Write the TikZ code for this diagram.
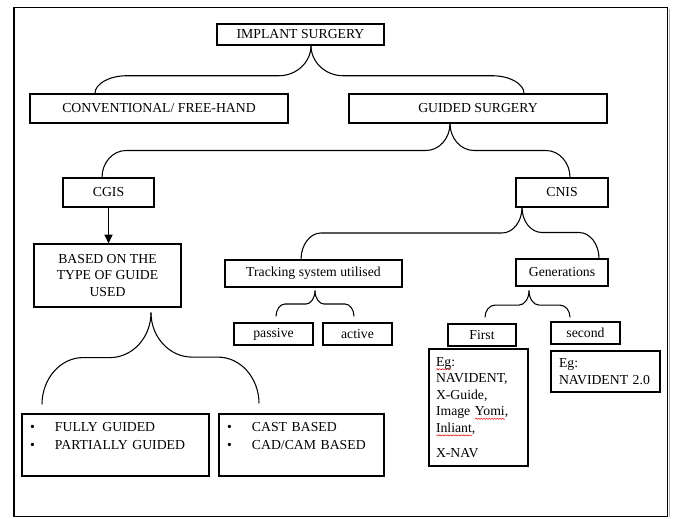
\documentclass[tikz,border=0pt]{standalone}
\usepackage{fontspec}
\setmainfont{Liberation Serif}
\usetikzlibrary{calc,arrows.meta,decorations.pathmorphing}

% red wavy spell-check mark under a word
\newlength{\spellwd}
\newcommand{\spellmark}[1]{\leavevmode\settowidth{\spellwd}{#1}\rlap{\tikz[baseline=0pt]\draw[red!85!black, line width=0.35pt, decorate, decoration={snake, amplitude=0.45pt, segment length=2pt}] (0pt,-2.2pt) -- (\spellwd,-2.2pt);}#1}
\newcommand{\itembullet}{\makebox[18.75pt][l]{\textbullet}}

\tikzset{
  box/.style 2 args={draw, line width=0.9pt, inner sep=0pt, align=center,
    minimum width=#1*0.75pt, minimum height=#2*0.75pt,
    font=\fontsize{10.3}{12.4}\selectfont},
  listbox/.style={align=left, inner xsep=6pt,
    font=\fontsize{10.3}{13.5}\selectfont},
  % curly arm from a parent's bottom to a child's top
  arm/.style 2 args={line width=0.8pt, to path={
    let \p1=(\tikztostart), \p2=(\tikztotarget),
        \n1={sign(\x2-\x1)}, \n2={\y1+#1*(\y2-\y1)}, \n3={#2*0.75}
    in .. controls (\x1,{\y1+0.55*(\n2-\y1)}) and ({\x1+0.45*\n1*\n3},{\n2*1pt}) .. ({\x1+\n1*\n3},{\n2*1pt})
    -- ({\x2-\n1*\n3},{\n2*1pt})
    .. controls ({\x2-0.45*\n1*\n3},{\n2*1pt}) and (\x2,{\n2+0.45*(\y2-\n2)}) .. (\tikztotarget)}}
}

\begin{document}
\begin{tikzpicture}[x=0.75pt, y=-0.75pt]
  \useasboundingbox (0,0) rectangle (673,518);
  \draw[line width=1.4pt] (14,7.5) rectangle (667.5,516.5);
  \draw[line width=1pt, gray!60] (669.5,9) -- (669.5,516.5);

  % levels
  \node[box={167}{21}] (implant) at (300.5,34.5) {IMPLANT SURGERY};
  \node[box={258}{29}] (conv) at (159,108.5) {CONVENTIONAL/ FREE-HAND};
  \node[box={258}{29}] (guided) at (478,108.5) {GUIDED SURGERY};
  \node[box={91}{29}] (cgis) at (108.5,192.5) {CGIS};
  \node[box={92}{29}] (cnis) at (562,192.5) {CNIS};
  \node[box={147}{63}] (guidetype) at (107.5,275.5) {BASED ON THE\\TYPE OF GUIDE\\USED};
  \node[box={177}{27}] (tracking) at (313.5,273.5) {Tracking system utilised};
  \node[box={92}{27}] (generations) at (562,272.5) {Generations};
  \node[box={79}{22}] (passive) at (273.5,334) {passive};
  \node[box={69}{22}] (active) at (357.5,334) {active};
  \node[box={68}{22}] (first) at (482,335) {First};
  \node[box={69}{22}] (second) at (585.5,333) {second};

  % example and list boxes
  \node[box={99}{117}, align=left, inner xsep=5.25pt, text width=63.75pt] (firstex) at (478.5,407.5)
    {\spellmark{Eg}:\\NAVIDENT,\\X-Guide,\\Image \spellmark{Yomi},\\\spellmark{Inliant},\\[6.4pt]X-NAV};
  \node[box={109}{41}, align=left, inner xsep=6pt, text width=69.75pt] (secondex) at (605.5,371.5)
    {Eg:\\NAVIDENT 2.0};
  \node[box={187}{62}, listbox, text width=128.25pt] (guidance) at (115.5,445)
    {\itembullet FULLY GUIDED\\\itembullet PARTIALLY GUIDED\\\mbox{}};
  \node[box={165}{62}, listbox, text width=111.75pt] (fabrication) at (301.5,445)
    {\itembullet CAST BASED\\\itembullet CAD/CAM BASED\\\mbox{}};

  % connectors
  \draw[arm={0.63}{32}] ($(implant.south)+(10.5,0)$) to ($(conv.north)+(-64,0)$);
  \draw[arm={0.63}{32}] ($(implant.south)+(10.5,0)$) to ($(guided.north)+(46,0)$);
  \draw[arm={0.5}{24}] ($(guided.south)+(-28,0)$) to ($(cgis.north)+(-6.5,0)$);
  \draw[arm={0.5}{24}] ($(guided.south)+(-28,0)$) to ($(cnis.north)+(8,0)$);
  \draw[arm={0.49}{20}] ($(cnis.south)+(-40,0)$) to ($(tracking.north)+(-12.5,0)$);
  \draw[arm={0.49}{20}] ($(cnis.south)+(-40,0)$) to ($(generations.north)+(37,0)$);
  \draw[arm={0.52}{9}] ($(tracking.south)+(1.5,3)$) to ($(passive.north)+(2.5,-6)$);
  \draw[arm={0.52}{9}] ($(tracking.south)+(1.5,3)$) to ($(active.north)+(-3.5,-6)$);
  \draw[arm={0.54}{10}] ($(generations.south)+(-33,4)$) to ($(first.north)+(3,-6)$);
  \draw[arm={0.54}{10}] ($(generations.south)+(-33,4)$) to ($(second.north)+(-15.5,-4)$);
  \draw[arm={0.49}{41}] ($(guidetype.south)+(43.5,5)$) to ($(guidance.north)+(-73.5,-9)$);
  \draw[arm={0.49}{41}] ($(guidetype.south)+(43.5,5)$) to ($(fabrication.north)+(-42.5,-10)$);
  \draw[line width=0.8pt, -{Triangle[length=6.5pt, width=6pt]}] (cgis.south) -- (cgis.south |- guidetype.north);
\end{tikzpicture}
\end{document}
